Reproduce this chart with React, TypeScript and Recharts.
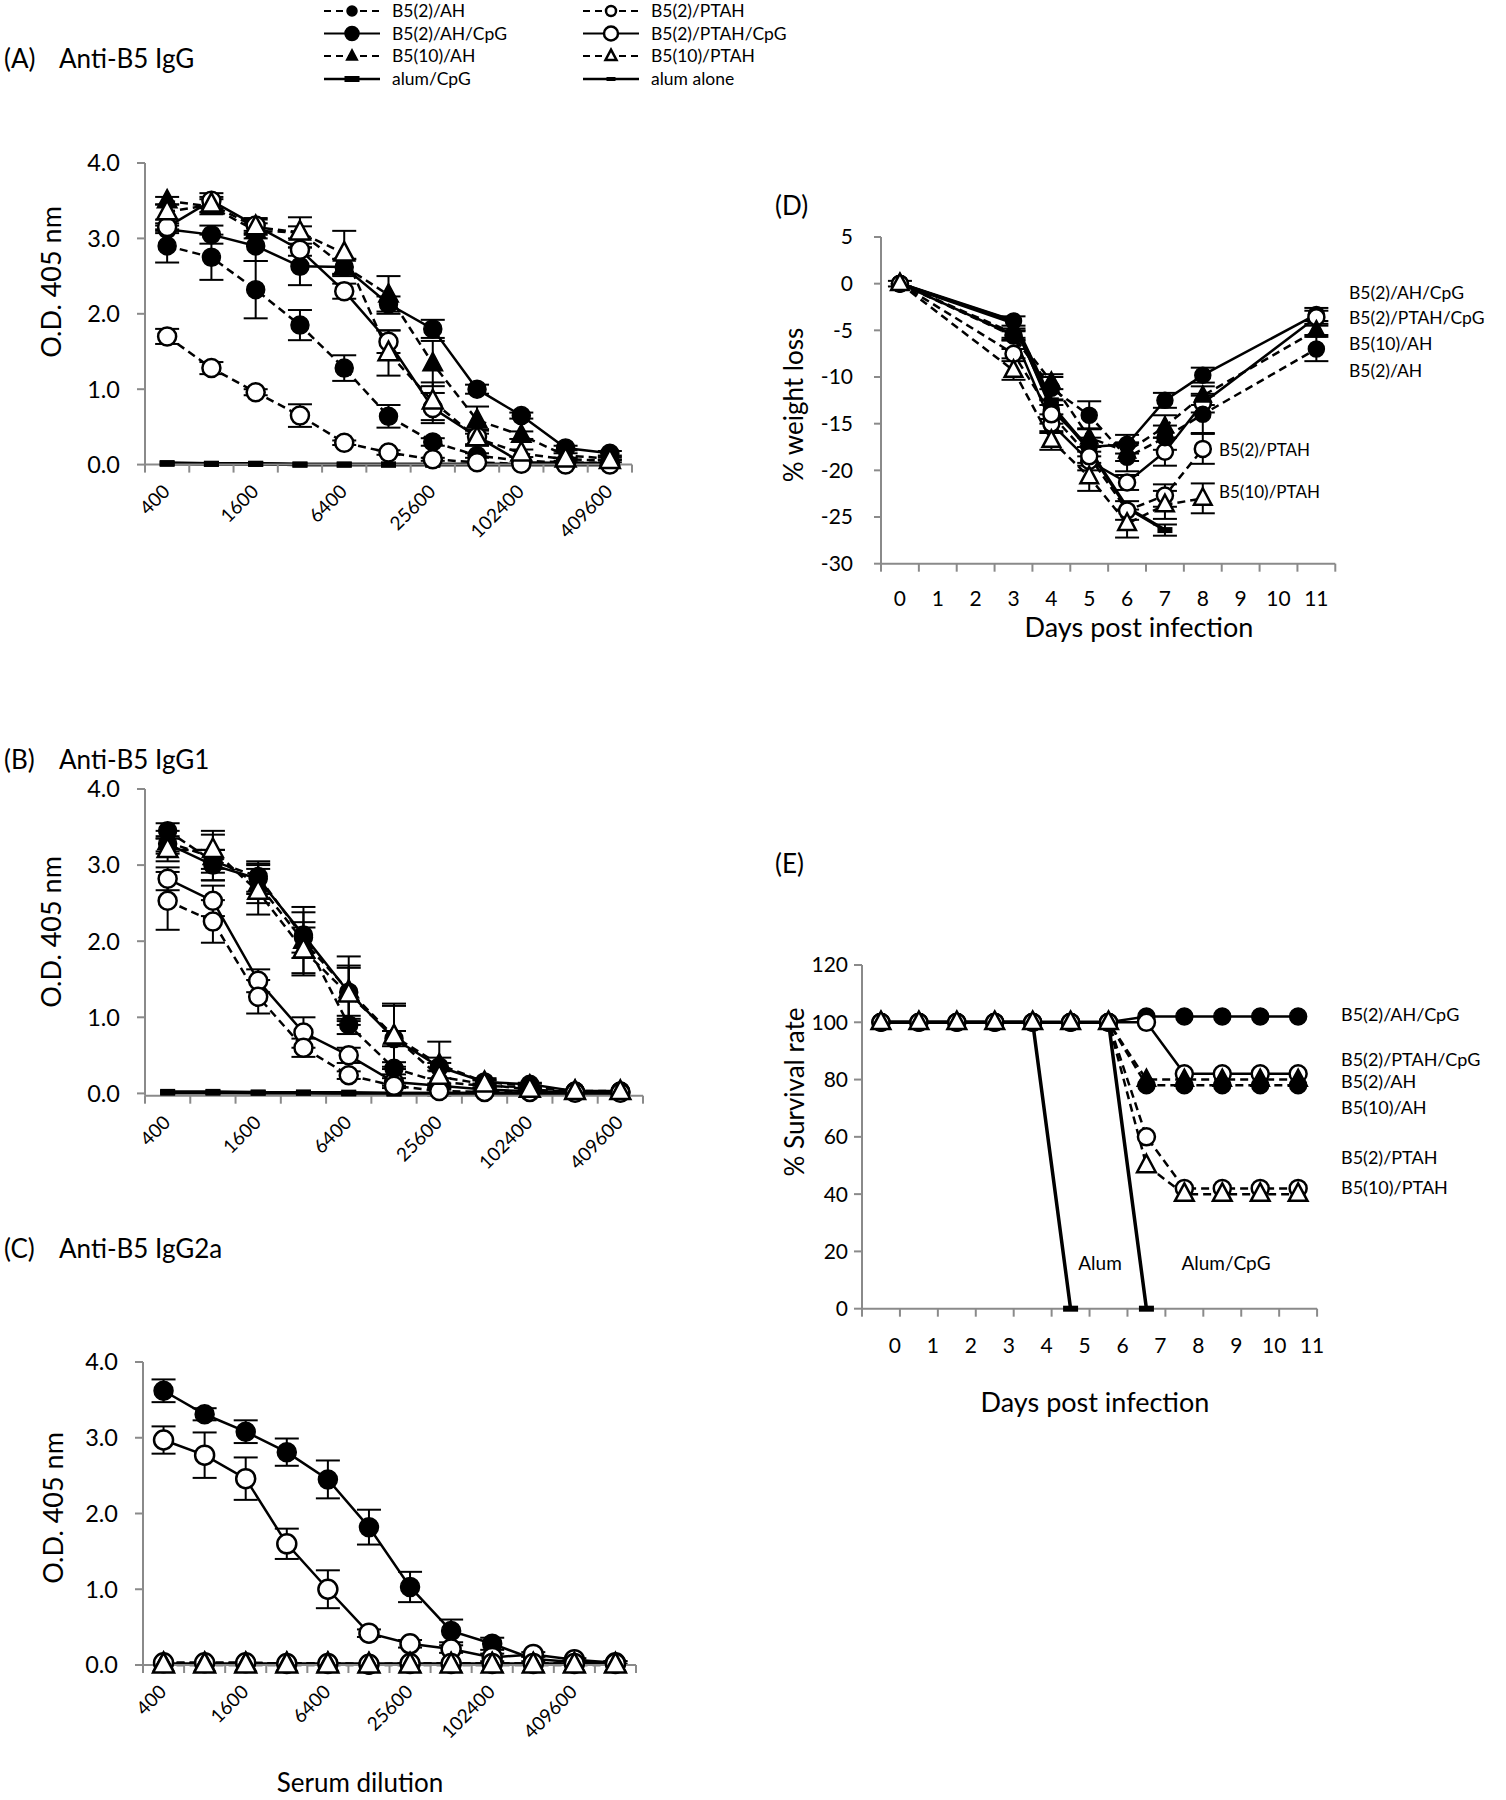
import React from 'react';
import { LineChart, Line, XAxis, YAxis, ErrorBar } from 'recharts';

const FONT = 'Lato, "Open Sans", sans-serif';
const AXIS = '#8a8a8a';

// categories / tick labels
const dilutions = ['400', '800', '1600', '3200', '6400', '12800', '25600', '51200', '102400', '204800', '409600'];
const dilutionsC = [...dilutions, '819200'];
const dilutionShown = ['400', '1600', '6400', '25600', '102400', '409600'];
const days = ['0', '1', '2', '3', '4', '5', '6', '7', '8', '9', '10', '11'];
const weightDays = [0, 3, 4, 5, 6, 7, 8, 11];
const odTicks = [0, 1, 2, 3, 4];
const weightTicks = [-30, -25, -20, -15, -10, -5, 0, 5];
const survivalTicks = [0, 20, 40, 60, 80, 100, 120];

const groupNames: Record<string, string> = {
  ah: 'B5(2)/AH',
  ahCpg: 'B5(2)/AH/CpG',
  ah10: 'B5(10)/AH',
  alumCpg: 'alum/CpG',
  ptah: 'B5(2)/PTAH',
  ptahCpg: 'B5(2)/PTAH/CpG',
  ptah10: 'B5(10)/PTAH',
  alum: 'alum alone',
};

// (A) anti-B5 IgG
const igAH = [2.9, 2.75, 2.32, 1.85, 1.28, 0.64, 0.3, 0.12, 0.05, 0.03, 0.02];
const igAHErr = [0.22, 0.3, 0.38, 0.2, 0.17, 0.15, 0.05, 0.03, 0, 0, 0];
const igAHCpG = [3.12, 3.05, 2.9, 2.63, 2.62, 2.13, 1.8, 1.0, 0.65, 0.22, 0.15];
const igAHCpGErr = [0.05, 0.12, 0.2, 0.25, 0.1, 0.1, 0.12, 0.06, 0.04, 0.03, 0.03];
const ig10AH = [3.5, 3.42, 3.1, 3.08, 2.63, 2.25, 1.34, 0.59, 0.39, 0.12, 0.08];
const ig10AHErr = [0.05, 0.1, 0.1, 0.08, 0.1, 0.25, 0.3, 0.18, 0.05, 0.03, 0.02];
const igPTAH = [1.7, 1.28, 0.96, 0.65, 0.29, 0.16, 0.07, 0.03, 0.01, 0, 0];
const igPTAHErr = [0.1, 0.08, 0.04, 0.15, 0.03, 0.03, 0.02, 0, 0, 0, 0];
const igPTAHCpG = [3.15, 3.5, 3.17, 2.85, 2.3, 1.63, 0.75, 0.37, 0.03, 0.02, 0.02];
const igPTAHCpGErr = [0.05, 0.1, 0.1, 0.08, 0.1, 0.15, 0.2, 0.1, 0, 0, 0];
const ig10PTAH = [3.35, 3.45, 3.15, 3.08, 2.8, 1.48, 0.84, 0.35, 0.15, 0.07, 0.05];
const ig10PTAHErr = [0.1, 0.1, 0.1, 0.2, 0.3, 0.3, 0.25, 0.1, 0.05, 0.02, 0.02];
const igAlumCpG = [0.02, 0.01, 0.01, 0, 0, 0, 0, 0, 0, 0, 0];
const igAlum = [0.01, 0.01, 0.01, 0, 0, 0, 0, 0, 0, 0, 0];

// (B) anti-B5 IgG1
const g1AH = [3.45, 3.05, 2.85, 2.05, 0.9, 0.33, 0.15, 0.1, 0.08, 0.03, 0.03];
const g1AHErr = [0.1, 0.15, 0.2, 0.2, 0.12, 0.08, 0.05, 0.03, 0.02, 0, 0];
const g1AHCpG = [3.28, 3.0, 2.82, 2.08, 1.33, 0.72, 0.35, 0.15, 0.12, 0.03, 0.03];
const g1AHCpGErr = [0.1, 0.2, 0.2, 0.3, 0.35, 0.1, 0.05, 0.03, 0.02, 0, 0];
const g110AH = [3.3, 3.1, 2.75, 2.0, 1.35, 0.75, 0.38, 0.15, 0.1, 0.03, 0.02];
const g110AHErr = [0.15, 0.3, 0.25, 0.45, 0.45, 0.43, 0.3, 0.05, 0.03, 0, 0];
const g1PTAH = [2.53, 2.26, 1.27, 0.6, 0.24, 0.1, 0.03, 0.02, 0.02, 0.01, 0.01];
const g1PTAHErr = [0.38, 0.28, 0.22, 0.12, 0.05, 0.03, 0.02, 0, 0, 0, 0];
const g1PTAHCpG = [2.82, 2.53, 1.48, 0.8, 0.5, 0.15, 0.1, 0.05, 0.03, 0.02, 0.02];
const g1PTAHCpGErr = [0.15, 0.2, 0.15, 0.2, 0.1, 0.05, 0.03, 0.02, 0, 0, 0];
const g110PTAH = [3.2, 3.2, 2.65, 1.88, 1.3, 0.75, 0.22, 0.12, 0.05, 0.02, 0.02];
const g110PTAHErr = [0.15, 0.25, 0.3, 0.3, 0.35, 0.4, 0.25, 0.05, 0.02, 0, 0];
const g1AlumCpG = [0.02, 0.02, 0.01, 0.01, 0.01, 0, 0, 0, 0, 0, 0];
const g1Alum = [0.01, 0.01, 0.01, 0.01, 0, 0, 0, 0, 0, 0, 0];

// (C) anti-B5 IgG2a
const g2aAHCpG = [3.62, 3.31, 3.08, 2.81, 2.45, 1.82, 1.03, 0.45, 0.28, 0.08, 0.04, 0.03];
const g2aAHCpGErr = [0.15, 0.08, 0.15, 0.18, 0.25, 0.23, 0.2, 0.15, 0.08, 0.03, 0.02, 0.02];
const g2aPTAHCpG = [2.97, 2.77, 2.46, 1.6, 1.0, 0.42, 0.28, 0.21, 0.1, 0.14, 0.07, 0.03];
const g2aPTAHCpGErr = [0.18, 0.3, 0.28, 0.2, 0.25, 0.05, 0.05, 0.05, 0.05, 0.03, 0.02, 0.02];
const g2aAH = [0.03, 0.03, 0.03, 0.02, 0.02, 0.01, 0.02, 0.02, 0.02, 0.02, 0.02, 0.02];
const g2a10AH = [0.02, 0.02, 0.02, 0.02, 0.02, 0.01, 0.01, 0.01, 0.01, 0.01, 0.01, 0.01];
const g2aPTAH = [0.03, 0.03, 0.03, 0.02, 0.02, 0.01, 0.02, 0.02, 0.02, 0.02, 0.02, 0.02];
const g2a10PTAH = [0, 0, 0, 0, 0, 0, 0, 0, 0, 0, 0, 0];
const g2aAlumCpG = [0.01, 0.01, 0.01, 0.01, 0.01, 0.01, 0.01, 0.01, 0.01, 0.01, 0.01, 0.01];
const g2aAlum = [0.01, 0.01, 0.01, 0.01, 0.01, 0.01, 0.01, 0.01, 0.01, 0.01, 0.01, 0.01];

// (D) % weight loss, at weightDays
const wAHCpG = [0, -4, -13.5, -17.5, -17.2, -12.5, -9.8, -3.3];
const wAHCpGErr = [0.3, 0.5, 1, 1, 1, 0.8, 0.8, 0.7];
const wPTAHCpG = [0, -5.5, -15, -19, -21.3, -18, -12.8, -3.6];
const wPTAHCpGErr = [0, 0.5, 1, 1, 0.8, 1.5, 1, 0.7];
const w10AH = [0, -5.3, -10.5, -16.5, -18, -15.3, -12, -5];
const w10AHErr = [0, 0.5, 0.8, 1, 1, 1.2, 1, 0.5];
const wAH = [0, -5.6, -11.2, -14.1, -18.6, -16.5, -14, -7];
const wAHErr = [0, 0.5, 1.2, 1.5, 1.5, 1.3, 2, 1.3];
const wPTAH = [0, -7.5, -14, -18.5, -24.3, -22.7, -17.7];
const wPTAHErr = [0, 0.5, 1, 1, 1, 1.2, 1.6];
const w10PTAH = [0, -9.3, -16.8, -20.7, -25.7, -23.7, -23];
const w10PTAHErr = [0, 1, 1, 1.5, 1.5, 1.5, 1.6];
const wAlumCpG = [0, -4.2, -13, -17.8, -24, -26.4];
const wAlumCpGErr = [0, 0, 0, 0, 0, 0.6];
const wAlum = [0, -4, -12.5];

// (E) % survival, days 0..11
const sAHCpG = [100, 100, 100, 100, 100, 100, 100, 102, 102, 102, 102, 102];
const sPTAHCpG = [100, 100, 100, 100, 100, 100, 100, 100, 82, 82, 82, 82];
const sAH = [100, 100, 100, 100, 100, 100, 100, 78, 78, 78, 78, 78];
const s10AH = [100, 100, 100, 100, 100, 100, 100, 80, 80, 80, 80, 80];
const sPTAH = [100, 100, 100, 100, 100, 100, 100, 60, 42, 42, 42, 42];
const s10PTAH = [100, 100, 100, 100, 100, 100, 100, 50, 40, 40, 40, 40];
const sAlum = [100, 100, 100, 100, 100, 0];
const sAlumCpG = [100, 100, 100, 100, 100, 100, 100, 0];

const STYLE: Record<string, { dash: boolean; shape: string }> = {
  alumCpg: { dash: false, shape: 'bar' },
  alum: { dash: false, shape: 'bar' },
  ahCpg: { dash: false, shape: 'fc' },
  ptahCpg: { dash: false, shape: 'oc' },
  ah: { dash: true, shape: 'fc' },
  ptah: { dash: true, shape: 'oc' },
  ah10: { dash: true, shape: 'ft' },
  ptah10: { dash: true, shape: 'ot' },
};

type Pt = { x: number; y: number; e: number };
type Ser = { key: string; pts: Pt[] };

const pts = (vals: number[], errs?: number[], xs?: number[]): Pt[] =>
  vals.map((v, i) => ({ x: xs ? xs[i] : i, y: v, e: errs ? errs[i] : 0 }));

function shapeEl(shape: string, cx: number, cy: number, r: number, k: string, small = false) {
  if (shape === 'fc') return <circle key={k} cx={cx} cy={cy} r={r} fill="#000" stroke="#000" strokeWidth={1.5} />;
  if (shape === 'oc') return <circle key={k} cx={cx} cy={cy} r={r} fill="#fff" stroke="#000" strokeWidth={2.5} />;
  if (shape === 'ft' || shape === 'ot') {
    const s = r * 1.1;
    const d = `M${cx},${cy - s * 1.15} L${cx + s},${cy + s * 0.72} L${cx - s},${cy + s * 0.72} Z`;
    return shape === 'ft'
      ? <path key={k} d={d} fill="#000" stroke="#000" strokeWidth={1.5} />
      : <path key={k} d={d} fill="#fff" stroke="#000" strokeWidth={2.5} />;
  }
  const w = small ? 9 : 15;
  const h = small ? 4 : 6;
  return <rect key={k} x={cx - w / 2} y={cy - h / 2} width={w} height={h} fill="#000" />;
}

const makeDot = (shape: string, r: number, id: string) => (p: any) => {
  const k = `${id}-${p.index}`;
  if (p.cx == null || p.cy == null) return <g key={k} />;
  return shapeEl(shape, p.cx, p.cy, r, k);
};

// ticks sit on category boundaries; the label of the category to the right is drawn half a step over
type LabelFn = (x: number, y: number, text: string) => React.ReactElement;

const rotLabel: LabelFn = (x, y, text) => {
  const ax = x + 4;
  const ay = y + 20;
  return (
    <text x={ax} y={ay} transform={`rotate(-45 ${ax} ${ay})`} textAnchor="end" fontSize={19} fontFamily={FONT} fill="#000">
      {text}
    </text>
  );
};

const flatLabel = (dx: number, dy: number): LabelFn => (x, y, text) => (
  <text x={x + dx} y={y + dy} textAnchor="middle" fontSize={21} fontFamily={FONT} fill="#000">
    {text}
  </text>
);

interface PlotProps {
  x0: number; y0: number; x1: number; y1: number;
  padL: number; padB: number;
  labels: string[]; shown: number[]; label: LabelFn;
  yDomain: [number, number]; yTicks: number[]; yFmt: (v: number) => string;
  yFont: number; yTickSize: number; yTickMargin: number;
  series: Ser[]; r: number; capW: number;
}

function Plot(props: PlotProps) {
  const { x0, y0, x1, y1, padL, padB, labels, shown, label, yDomain, yTicks, yFmt, yFont, yTickSize, yTickMargin, series, r, capW } = props;
  const n = labels.length;
  const padT = 20;
  const padR = 40;
  const w = x1 - x0 + padL + padR;
  const h = y1 - y0 + padT + padB;
  const half = (x1 - x0) / n / 2;
  const bounds = Array.from({ length: n + 1 }, (_, i) => i - 0.5);
  const tick = (p: any) => {
    const c = Math.round(p.payload.value + 0.5);
    if (c >= n || !shown.includes(c)) return <g />;
    return label(p.x + half, p.y, labels[c]);
  };
  return (
    <div style={{ position: 'absolute', left: x0 - padL, top: y0 - padT, width: w, height: h }}>
      <LineChart width={w} height={h} margin={{ top: padT, right: padR, bottom: 0, left: 0 }}>
        <YAxis
          type="number" domain={yDomain} ticks={yTicks} interval={0} width={padL} tickFormatter={yFmt}
          axisLine={{ stroke: AXIS, strokeWidth: 2 }} tickLine={{ stroke: AXIS, strokeWidth: 2 }}
          tickSize={yTickSize} tickMargin={yTickMargin}
          tick={{ fontSize: yFont, fill: '#000', fontFamily: FONT }}
        />
        <XAxis
          type="number" dataKey="x" domain={[-0.5, n - 0.5]} ticks={bounds} interval={0} height={padB}
          axisLine={{ stroke: AXIS, strokeWidth: 2 }} tickLine={{ stroke: AXIS, strokeWidth: 2 }}
          tickSize={8} tickMargin={0} tick={tick}
        />
        {series.map((s) => {
          const st = STYLE[s.key];
          const isBar = st.shape === 'bar';
          return (
            <Line
              key={s.key} data={s.pts} dataKey="y" type="linear" stroke="#000"
              strokeWidth={isBar ? 3.5 : 2.5} strokeDasharray={st.dash ? '8 5' : undefined}
              dot={makeDot(st.shape, r, s.key)} activeDot={false} isAnimationActive={false}
            >
              {s.pts.some((p) => p.e > 0) && (
                <ErrorBar dataKey="e" width={capW} strokeWidth={2} stroke="#000" direction="y" isAnimationActive={false} />
              )}
            </Line>
          );
        })}
      </LineChart>
    </div>
  );
}

const seriesA: Ser[] = [
  { key: 'alumCpg', pts: pts(igAlumCpG) },
  { key: 'alum', pts: pts(igAlum) },
  { key: 'ahCpg', pts: pts(igAHCpG, igAHCpGErr) },
  { key: 'ptahCpg', pts: pts(igPTAHCpG, igPTAHCpGErr) },
  { key: 'ah', pts: pts(igAH, igAHErr) },
  { key: 'ptah', pts: pts(igPTAH, igPTAHErr) },
  { key: 'ah10', pts: pts(ig10AH, ig10AHErr) },
  { key: 'ptah10', pts: pts(ig10PTAH, ig10PTAHErr) },
];

const seriesB: Ser[] = [
  { key: 'alumCpg', pts: pts(g1AlumCpG) },
  { key: 'alum', pts: pts(g1Alum) },
  { key: 'ahCpg', pts: pts(g1AHCpG, g1AHCpGErr) },
  { key: 'ptahCpg', pts: pts(g1PTAHCpG, g1PTAHCpGErr) },
  { key: 'ah', pts: pts(g1AH, g1AHErr) },
  { key: 'ptah', pts: pts(g1PTAH, g1PTAHErr) },
  { key: 'ah10', pts: pts(g110AH, g110AHErr) },
  { key: 'ptah10', pts: pts(g110PTAH, g110PTAHErr) },
];

const seriesC: Ser[] = [
  { key: 'alumCpg', pts: pts(g2aAlumCpG) },
  { key: 'alum', pts: pts(g2aAlum) },
  { key: 'ahCpg', pts: pts(g2aAHCpG, g2aAHCpGErr) },
  { key: 'ptahCpg', pts: pts(g2aPTAHCpG, g2aPTAHCpGErr) },
  { key: 'ah', pts: pts(g2aAH) },
  { key: 'ptah', pts: pts(g2aPTAH) },
  { key: 'ah10', pts: pts(g2a10AH) },
  { key: 'ptah10', pts: pts(g2a10PTAH) },
];

const seriesD: Ser[] = [
  { key: 'alumCpg', pts: pts(wAlumCpG, wAlumCpGErr, weightDays) },
  { key: 'alum', pts: pts(wAlum, undefined, weightDays) },
  { key: 'ahCpg', pts: pts(wAHCpG, wAHCpGErr, weightDays) },
  { key: 'ptahCpg', pts: pts(wPTAHCpG, wPTAHCpGErr, weightDays) },
  { key: 'ah', pts: pts(wAH, wAHErr, weightDays) },
  { key: 'ptah', pts: pts(wPTAH, wPTAHErr, weightDays) },
  { key: 'ah10', pts: pts(w10AH, w10AHErr, weightDays) },
  { key: 'ptah10', pts: pts(w10PTAH, w10PTAHErr, weightDays) },
];

const seriesE: Ser[] = [
  { key: 'alumCpg', pts: pts(sAlumCpG) },
  { key: 'alum', pts: pts(sAlum) },
  { key: 'ahCpg', pts: pts(sAHCpG) },
  { key: 'ptahCpg', pts: pts(sPTAHCpG) },
  { key: 'ah', pts: pts(sAH) },
  { key: 'ptah', pts: pts(sPTAH) },
  { key: 'ah10', pts: pts(s10AH) },
  { key: 'ptah10', pts: pts(s10PTAH) },
];

const dilutionIdx = dilutionShown.map((d) => dilutions.indexOf(d));
const dayIdx = days.map((_, i) => i);
const od = (v: number) => v.toFixed(1);

const legendCols = [['ah', 'ahCpg', 'ah10', 'alumCpg'], ['ptah', 'ptahCpg', 'ptah10', 'alum']];
const legendRowY = [11, 33.5, 56, 79];
const legendColX = [324, 583];

function T(p: { x: number; y: number; s: number; a?: 'start' | 'middle' | 'end'; rot?: boolean; children: React.ReactNode }) {
  return (
    <text
      x={p.x} y={p.y} fontSize={p.s} fontFamily={FONT} fill="#000" textAnchor={p.a || 'start'}
      dominantBaseline={p.rot ? 'central' : undefined}
      transform={p.rot ? `rotate(-90 ${p.x} ${p.y})` : undefined}
    >
      {p.children}
    </text>
  );
}

function Overlay() {
  return (
    <svg width={1506} height={1800} style={{ position: 'absolute', left: 0, top: 0, pointerEvents: 'none' }}>
      {/* legend */}
      {legendCols.map((col, ci) =>
        col.map((key, ri) => {
          const st = STYLE[key];
          const x = legendColX[ci];
          const y = legendRowY[ri];
          const big = ri === 1;
          return (
            <g key={key}>
              <line x1={x} x2={x + 56} y1={y} y2={y} stroke="#000" strokeWidth={st.shape === 'bar' ? 2.5 : 2}
                strokeDasharray={st.dash ? '7 5' : undefined} />
              {shapeEl(st.shape, x + 28, y, big ? 7 : 5, `lg-${key}`, ci === 1)}
              <T x={x + 68} y={y + 6} s={17.5}>{groupNames[key]}</T>
            </g>
          );
        })
      )}

      <T x={4} y={68} s={26}>(A)</T>
      <T x={59} y={68} s={26}>Anti-B5 IgG</T>
      <T x={4} y={769} s={26}>(B)</T>
      <T x={59} y={769} s={26}>Anti-B5 IgG1</T>
      <T x={4} y={1258} s={26}>(C)</T>
      <T x={59} y={1258} s={26}>Anti-B5 IgG2a</T>
      <T x={775} y={215} s={26}>(D)</T>
      <T x={775} y={873} s={26}>(E)</T>

      <T x={50} y={282} s={27} a="middle" rot>O.D. 405 nm</T>
      <T x={50} y={932} s={27} a="middle" rot>O.D. 405 nm</T>
      <T x={52} y={1508} s={27} a="middle" rot>O.D. 405 nm</T>
      <T x={360} y={1792} s={26} a="middle">Serum dilution</T>

      <T x={793} y={405} s={26} a="middle" rot>% weight loss</T>
      <T x={1139} y={637} s={27} a="middle">Days post infection</T>
      <T x={1349} y={299} s={17.5}>{groupNames.ahCpg}</T>
      <T x={1349} y={324} s={17.5}>{groupNames.ptahCpg}</T>
      <T x={1349} y={350} s={17.5}>{groupNames.ah10}</T>
      <T x={1349} y={377} s={17.5}>{groupNames.ah}</T>
      <T x={1219} y={456} s={17}>{groupNames.ptah}</T>
      <T x={1219} y={498} s={17}>{groupNames.ptah10}</T>

      <T x={794} y={1092} s={26} a="middle" rot>% Survival rate</T>
      <T x={1095} y={1412} s={27} a="middle">Days post infection</T>
      <T x={1341} y={1021} s={18}>{groupNames.ahCpg}</T>
      <T x={1341} y={1066} s={18}>{groupNames.ptahCpg}</T>
      <T x={1341} y={1088} s={18}>{groupNames.ah}</T>
      <T x={1341} y={1114} s={18}>{groupNames.ah10}</T>
      <T x={1341} y={1164} s={18}>{groupNames.ptah}</T>
      <T x={1341} y={1194} s={18}>{groupNames.ptah10}</T>
      <T x={1100} y={1270} s={19} a="middle">Alum</T>
      <T x={1226} y={1270} s={19} a="middle">Alum/CpG</T>
    </svg>
  );
}

export default function App() {
  return (
    <div style={{ position: 'absolute', left: 0, top: 0, width: 1506, height: 1800, background: '#fff', overflow: 'hidden', fontFamily: FONT }}>
      <Plot x0={145} x1={632} y0={162.7} y1={464.3} padL={140} padB={110}
        labels={dilutions} shown={dilutionIdx} label={rotLabel}
        yDomain={[0, 4]} yTicks={odTicks} yFmt={od} yFont={23.5} yTickSize={8} yTickMargin={17}
        series={seriesA} r={9} capW={12} />
      <Plot x0={145} x1={643} y0={789.3} y1={1096} padL={140} padB={110}
        labels={dilutions} shown={dilutionIdx} label={rotLabel}
        yDomain={[0, 4]} yTicks={odTicks} yFmt={od} yFont={23.5} yTickSize={8} yTickMargin={17}
        series={seriesB} r={9} capW={12} />
      <Plot x0={143} x1={636} y0={1362} y1={1665} padL={138} padB={110}
        labels={dilutionsC} shown={dilutionIdx} label={rotLabel}
        yDomain={[0, 4]} yTicks={odTicks} yFmt={od} yFont={23.5} yTickSize={8} yTickMargin={17}
        series={seriesC} r={9.5} capW={12} />
      <Plot x0={880.7} x1={1335} y0={237.3} y1={564} padL={80} padB={60}
        labels={days} shown={dayIdx} label={flatLabel(0, 34)}
        yDomain={[-30, 5]} yTicks={weightTicks} yFmt={(v) => String(v)} yFont={21} yTickSize={7} yTickMargin={21}
        series={seriesD} r={8} capW={12} />
      <Plot x0={861.5} x1={1316.6} y0={965.3} y1={1309} padL={80} padB={60}
        labels={days} shown={dayIdx} label={flatLabel(14, 36)}
        yDomain={[0, 120]} yTicks={survivalTicks} yFmt={(v) => String(v)} yFont={21} yTickSize={8} yTickMargin={6}
        series={seriesE} r={8.5} capW={12} />
      <Overlay />
    </div>
  );
}
